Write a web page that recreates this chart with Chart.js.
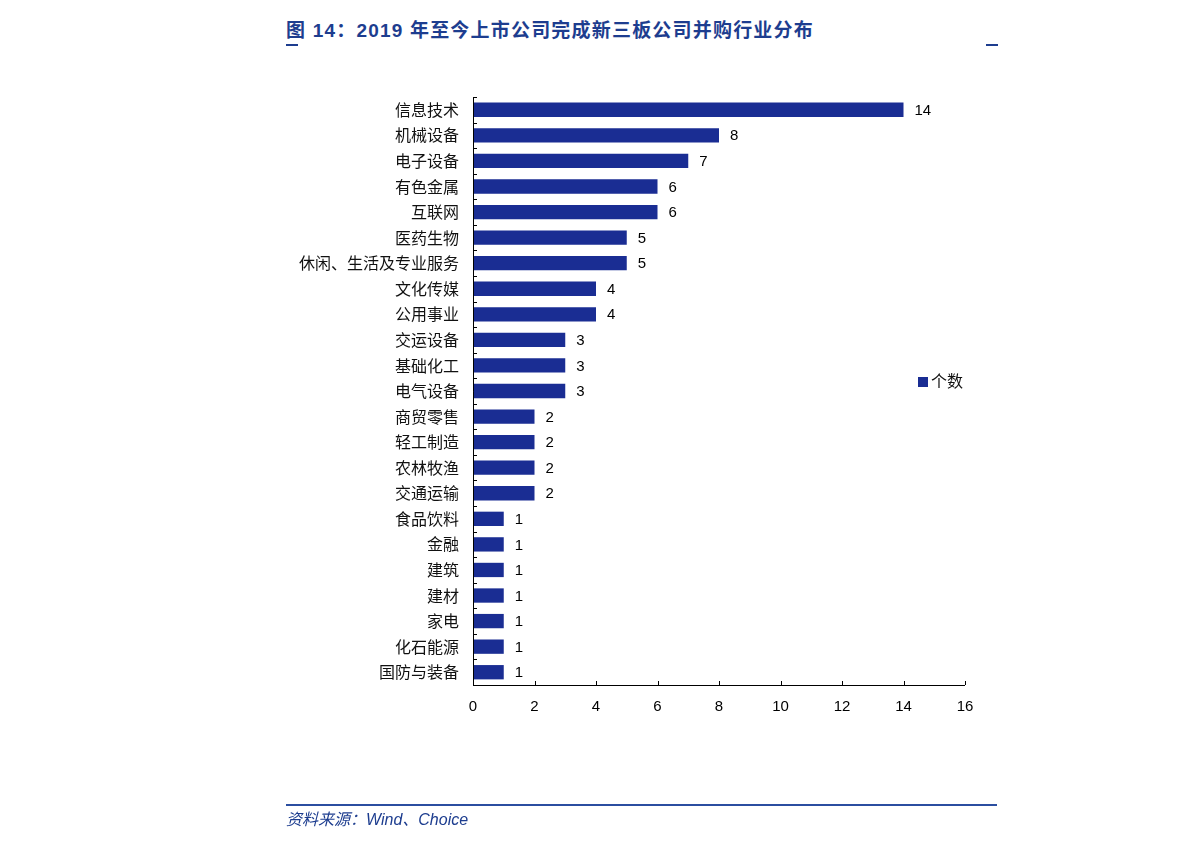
<!DOCTYPE html>
<html lang="zh">
<head>
<meta charset="UTF-8">
<title>2019年至今上市公司完成新三板公司并购行业分布</title>
<script src="https://cdn.jsdelivr.net/npm/chart.js"></script>
<style>
  body { margin: 0; background: #fff; font-family: 'Liberation Sans', 'Noto Sans CJK SC', sans-serif; }
  #wrap { position: relative; width: 1191px; height: 846px; overflow: hidden; }
  #chartBox { position: absolute; left: 0; top: 0; width: 1191px; height: 846px; }
  .title { position: absolute; left: 286px; top: 15px; font-size: 19px; font-weight: bold; color: #1d3d8f; letter-spacing: 1.2px; }
  .mark { position: absolute; top: 44px; width: 12px; height: 2px; background: #1d3d8f; }
  .rule { position: absolute; left: 286px; top: 804px; width: 711px; height: 2px; background: #2b4ea0; }
  .source { position: absolute; left: 286px; top: 806px; font-size: 16px; font-style: italic; color: #1d3d8f; }
  .legend { position: absolute; left: 918px; top: 368px; font-size: 16px; color: #111; font-family: 'Noto Sans CJK SC', sans-serif; }
  .legend i { display: inline-block; width: 10px; height: 10px; background: #1a2d93; margin-right: 3px; vertical-align: 0px; }
</style>
</head>
<body>
<div id="wrap">
  <div class="title">图 14：2019 年至今上市公司完成新三板公司并购行业分布</div>
  <div class="mark" style="left:286px"></div>
  <div class="mark" style="left:986px"></div>
  <div id="chartBox"><canvas id="chart"></canvas></div>
  <div class="legend"><i></i>个数</div>
  <div class="rule"></div>
  <div class="source">资料来源：Wind、Choice</div>
</div>
<script>
  const categories = ['信息技术', '机械设备', '电子设备', '有色金属', '互联网', '医药生物', '休闲、生活及专业服务',
    '文化传媒', '公用事业', '交运设备', '基础化工', '电气设备', '商贸零售', '轻工制造', '农林牧渔', '交通运输',
    '食品饮料', '金融', '建筑', '建材', '家电', '化石能源', '国防与装备'];
  const counts = [14, 8, 7, 6, 6, 5, 5, 4, 4, 3, 3, 3, 2, 2, 2, 2, 1, 1, 1, 1, 1, 1, 1];
  const xTicks = [0, 2, 4, 6, 8, 10, 12, 14, 16];

  // 坐标轴：刻度线朝内
  const axisPlugin = {
    id: 'axisLines',
    afterDraw(chart) {
      const { ctx, chartArea: a, scales: { x, y } } = chart;
      ctx.save();
      ctx.strokeStyle = '#000';
      ctx.lineWidth = 1;
      ctx.beginPath();
      ctx.moveTo(a.left + 0.5, a.top);
      ctx.lineTo(a.left + 0.5, a.bottom + 0.5);
      ctx.lineTo(a.right, a.bottom + 0.5);
      xTicks.forEach(v => {
        const px = Math.round(x.getPixelForValue(v)) + 0.5;
        ctx.moveTo(px, a.bottom);
        ctx.lineTo(px, a.bottom - 4);
      });
      for (let i = 0; i <= categories.length; i++) {
        const py = Math.round(a.top + (a.bottom - a.top) * i / categories.length) + 0.5;
        ctx.moveTo(a.left, py);
        ctx.lineTo(a.left + 4, py);
      }
      ctx.stroke();
      ctx.restore();
    }
  };

  // 数值标签
  const labelPlugin = {
    id: 'valueLabels',
    afterDatasetsDraw(chart) {
      const { ctx } = chart;
      const meta = chart.getDatasetMeta(0);
      ctx.save();
      ctx.font = '15px "Liberation Sans", sans-serif';
      ctx.fillStyle = '#000';
      ctx.textBaseline = 'middle';
      meta.data.forEach((bar, i) => {
        ctx.fillText(counts[i], bar.x + 11, bar.y + 1);
      });
      ctx.restore();
    }
  };

  new Chart(document.getElementById('chart'), {
    type: 'bar',
    data: {
      labels: categories,
      datasets: [{
        label: '个数',
        data: counts,
        backgroundColor: '#1a2d93',
        barPercentage: 0.56,
        categoryPercentage: 1
      }]
    },
    options: {
      indexAxis: 'y',
      responsive: true,
      maintainAspectRatio: false,
      animation: false,
      layout: { padding: { left: 0, right: 226, top: 97, bottom: 121 } },
      plugins: { legend: { display: false }, tooltip: { enabled: false } },
      scales: {
        x: {
          min: 0, max: 16,
          afterFit(s) { s.height = 40; },
          afterBuildTicks(s) { s.ticks = xTicks.map(v => ({ value: v })); },
          grid: { display: false, drawTicks: false },
          border: { display: false },
          ticks: { padding: 13, color: '#000', font: { family: 'Liberation Sans', size: 15 }, maxRotation: 0 }
        },
        y: {
          afterFit(s) { s.width = 473; },
          grid: { display: false, drawTicks: false },
          border: { display: false },
          ticks: { padding: 14, color: '#111', font: { family: 'Noto Sans CJK SC', size: 16 }, autoSkip: false }
        }
      }
    },
    plugins: [axisPlugin, labelPlugin]
  });
</script>
</body>
</html>
